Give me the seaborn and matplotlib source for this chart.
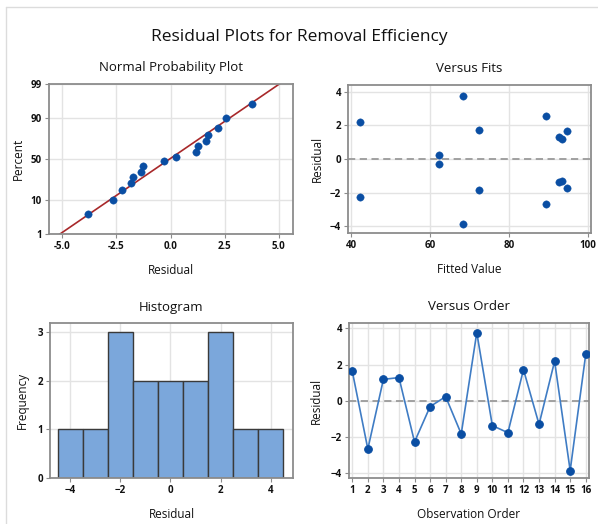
import numpy as np
import pandas as pd
import matplotlib
matplotlib.use("Agg")
import matplotlib.pyplot as plt
from matplotlib.lines import Line2D
import seaborn as sns
from statistics import NormalDist

# ---- data ----
order = list(range(1, 17))
residuals = [1.64, -2.65, 1.19, 1.29, -2.26, -0.31, 0.24, -1.82,
             3.77, -1.36, -1.75, 1.73, -1.29, 2.19, -3.84, 2.57]
fitted = [94.8, 89.5, 93.5, 92.6, 42.1, 62.2, 62.2, 72.3,
          68.3, 92.6, 94.8, 72.3, 93.5, 42.1, 68.3, 89.5]
hist_edges = [-4.5, -3.5, -2.5, -1.5, -0.5, 0.5, 1.5, 2.5, 3.5, 4.5]
pct_ticks = [1, 10, 50, 90, 99]
npp_xticks = [-5.0, -2.5, 0.0, 2.5, 5.0]
fit_xticks = [40, 60, 80, 100]
res_yticks = [-4, -2, 0, 2, 4]
freq_ticks = [0, 1, 2, 3]
hist_xticks = [-4, -2, 0, 2, 4]

sns.set_theme(style="white")
plt.rcParams['font.family'] = ['Open Sans', 'DejaVu Sans']
plt.rcParams['text.color'] = '#111111'
plt.rcParams['axes.labelcolor'] = '#111111'
plt.rcParams['xtick.color'] = '#111111'
plt.rcParams['ytick.color'] = '#111111'

nd = NormalDist()
df = pd.DataFrame({"order": order, "residual": residuals, "fitted": fitted})

# probability plot positions
n = len(residuals)
srt = np.sort(np.array(residuals))
ranks = (np.arange(1, n + 1) - 0.3) / (n + 0.4)
zs = np.array([nd.inv_cdf(p) for p in ranks])
npp = pd.DataFrame({"residual": srt, "z": zs})
mu = float(np.mean(residuals))
sd = float(np.std(residuals, ddof=1))

fig = plt.figure(figsize=(5.98, 5.24), dpi=100)
W, H = 598, 524

def ax_at(l, t, r, b):
    return fig.add_axes([l / W, 1 - b / H, (r - l) / W, (b - t) / H])

ax1 = ax_at(49, 84, 293, 234)
ax2 = ax_at(348, 85, 591, 233)
ax3 = ax_at(50, 323, 293, 478)
ax4 = ax_at(349, 323, 589, 478)

blue = "#0a4ea3"
grid_c = "#e3e3e3"
spine_c = "#8c8c8c"

def style(ax):
    for s in ax.spines.values():
        s.set_color(spine_c)
        s.set_linewidth(1.3)
    ax.grid(True, color=grid_c, linewidth=1.0)
    ax.set_axisbelow(True)
    ax.tick_params(axis="both", which="both", length=3, width=0.8, color=spine_c,
                   labelcolor="#111111", labelsize=7, pad=2, direction="out",
                   bottom=True, left=True)
    for lab in ax.get_xticklabels() + ax.get_yticklabels():
        lab.set_fontweight("bold")

LBL = 8.5
TTL = 9.5

# Normal probability plot
zlo, zhi = nd.inv_cdf(0.01), nd.inv_cdf(0.99)
line_df = pd.DataFrame({"x": [mu + sd * zlo - 0.1, mu + sd * zhi + 0.1],
                        "z": [zlo - 0.1 / sd, zhi + 0.1 / sd]})
sns.lineplot(data=line_df, x="x", y="z", ax=ax1, color="#a8282a", linewidth=1.2)
sns.scatterplot(data=npp, x="residual", y="z", ax=ax1, color=blue, s=28,
                edgecolor=blue, linewidth=0.3, zorder=3)
ax1.set_xlim(-5.62, 5.66)
ax1.set_ylim(zlo, zhi)
ax1.set_xticks(npp_xticks)
ax1.set_xticklabels([f"{v:.1f}" for v in npp_xticks])
ax1.set_yticks([nd.inv_cdf(p / 100) for p in pct_ticks])
ax1.set_yticklabels([str(p) for p in pct_ticks])
ax1.set_xlabel("Residual", fontsize=LBL, labelpad=9)
ax1.set_ylabel("Percent", fontsize=LBL, labelpad=4)
ax1.set_title("Normal Probability Plot", fontsize=TTL, pad=9)
style(ax1)

# Versus fits
ax2.axhline(0, color="#9a9a9a", linestyle=(0, (4, 2.5)), linewidth=1.3, zorder=1)
sns.scatterplot(data=df, x="fitted", y="residual", ax=ax2, color=blue, s=28,
                edgecolor=blue, linewidth=0.3, zorder=3)
ax2.set_xlim(39.15, 100.85)
ax2.set_ylim(-4.4, 4.4)
ax2.set_xticks(fit_xticks)
ax2.set_yticks(res_yticks)
ax2.set_xlabel("Fitted Value", fontsize=LBL, labelpad=9)
ax2.set_ylabel("Residual", fontsize=LBL, labelpad=4)
ax2.set_title("Versus Fits", fontsize=TTL, pad=9)
style(ax2)

# Histogram
sns.histplot(data=df, x="residual", bins=hist_edges, ax=ax3, color="#7ba7db",
             edgecolor="#3a3a3a", linewidth=1.0, alpha=1.0)
ax3.set_xlim(-4.8, 4.88)
ax3.set_ylim(0, 3.19)
ax3.set_xticks(hist_xticks)
ax3.set_yticks(freq_ticks)
ax3.set_xlabel("Residual", fontsize=LBL, labelpad=9)
ax3.set_ylabel("Frequency", fontsize=LBL, labelpad=6)
ax3.set_title("Histogram", fontsize=TTL, pad=9)
style(ax3)

# Versus order
ax4.axhline(0, color="#9a9a9a", linestyle=(0, (4, 2.5)), linewidth=1.3, zorder=1)
sns.lineplot(data=df, x="order", y="residual", ax=ax4, color="#3f7cc4",
             linewidth=1.2, marker="o", markersize=5.5, markerfacecolor=blue,
             markeredgecolor=blue, zorder=3)
ax4.set_xlim(0.79, 16.21)
ax4.set_ylim(-4.25, 4.3)
ax4.set_xticks(order)
ax4.set_yticks(res_yticks)
ax4.set_xlabel("Observation Order", fontsize=LBL, labelpad=9)
ax4.set_ylabel("Residual", fontsize=LBL, labelpad=6)
ax4.set_title("Versus Order", fontsize=TTL, pad=9)
style(ax4)

fig.suptitle("Residual Plots for Removal Efficiency", fontsize=12.5, y=1 - 37 / H, va="center")

# light frame lines
fig.add_artist(Line2D([6 / W, 1], [1 - 7 / H, 1 - 7 / H], color="#dcdcdc", linewidth=1.0))
fig.add_artist(Line2D([6 / W, 6 / W], [0, 1 - 7 / H], color="#dcdcdc", linewidth=1.0))

fig.savefig("out.png", dpi=100)
